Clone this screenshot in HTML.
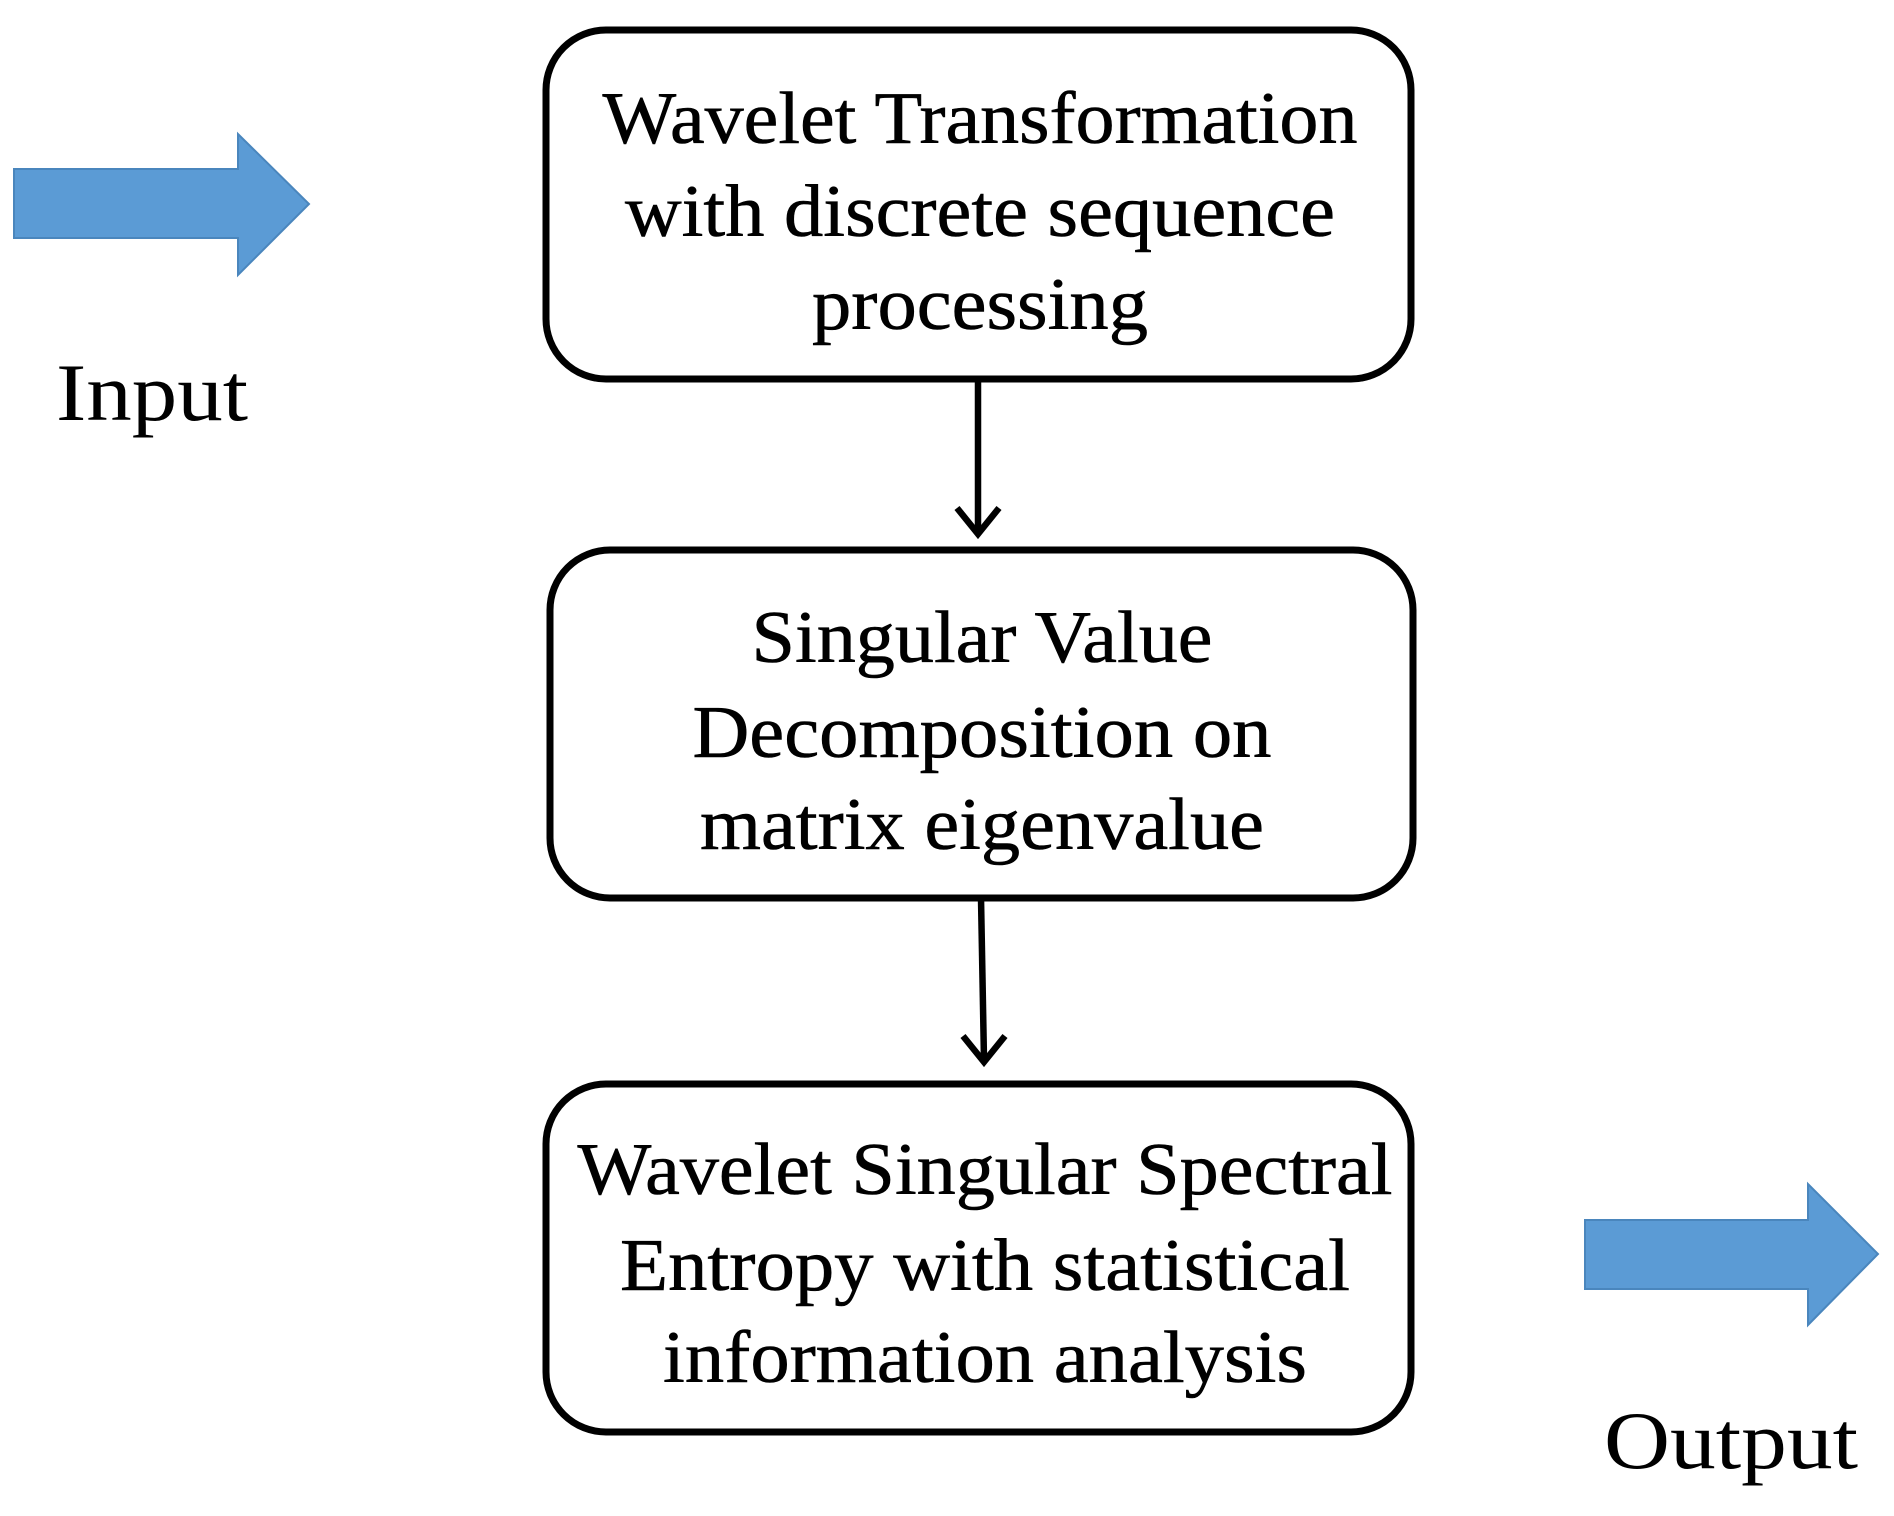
<!DOCTYPE html>
<html><head><meta charset="utf-8"><style>html,body{margin:0;padding:0;background:#fff}</style></head>
<body>
<svg width="1894" height="1511" viewBox="0 0 1894 1511" xmlns="http://www.w3.org/2000/svg" font-family="Liberation Serif, serif" font-size="74" fill="#000">
<rect width="1894" height="1511" fill="#fff"/>
<polygon points="14,169 238,169 238,134 309,204 238,275 238,238 14,238" fill="#5b9bd5" stroke="#4a86bd" stroke-width="2"/>
<polygon points="1585,1220 1808,1220 1808,1184 1878,1254 1808,1325 1808,1289 1585,1289" fill="#5b9bd5" stroke="#4a86bd" stroke-width="2"/>
<g fill="none" stroke="#000" stroke-width="7">
<rect x="546" y="30" width="865" height="349" rx="60"/>
<rect x="550" y="550" width="863" height="348" rx="60"/>
<rect x="546" y="1084" width="865" height="348" rx="60"/>
</g>
<g fill="none" stroke="#000" stroke-width="6.5">
<line x1="978" y1="379" x2="978" y2="532"/>
<polyline points="957,508 978,534 999,508"/>
<line x1="981" y1="898" x2="984" y2="1060"/>
<polyline points="963,1036 984,1062 1005,1036"/>
</g>
<g text-anchor="middle" stroke="#000" stroke-width="0.6">
<text x="980" y="143" textLength="755" lengthAdjust="spacingAndGlyphs">Wavelet Transformation</text>
<text x="980" y="236" textLength="710" lengthAdjust="spacingAndGlyphs">with discrete sequence</text>
<text x="980" y="329" textLength="336" lengthAdjust="spacingAndGlyphs">processing</text>
<text x="982" y="662" textLength="461" lengthAdjust="spacingAndGlyphs">Singular Value</text>
<text x="982" y="757" textLength="579" lengthAdjust="spacingAndGlyphs">Decomposition on</text>
<text x="982" y="849" textLength="564" lengthAdjust="spacingAndGlyphs">matrix eigenvalue</text>
<text x="985" y="1194" textLength="815" lengthAdjust="spacingAndGlyphs">Wavelet Singular Spectral</text>
<text x="985" y="1290" textLength="730" lengthAdjust="spacingAndGlyphs">Entropy with statistical</text>
<text x="985" y="1382" textLength="644" lengthAdjust="spacingAndGlyphs">information analysis</text>
</g>
<text x="56" y="420" font-size="82" textLength="192" lengthAdjust="spacingAndGlyphs">Input</text>
<text x="1604" y="1468" font-size="82" textLength="254" lengthAdjust="spacingAndGlyphs">Output</text>
</svg>
</body></html>
